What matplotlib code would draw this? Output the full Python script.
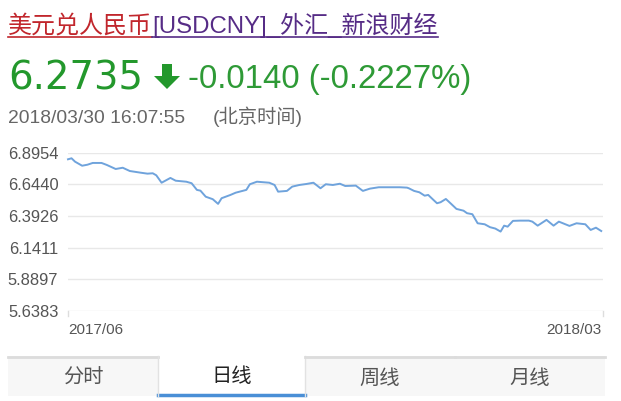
import matplotlib
matplotlib.use("Agg")
import matplotlib.pyplot as plt
import matplotlib.transforms as mtransforms
from matplotlib.patches import Rectangle, Polygon
from matplotlib.lines import Line2D

# USDCNY daily close, days counted from 2017/06 start of chart
days = [0, 2, 4, 8, 11, 14, 19, 22, 27, 31, 35, 41, 45, 48, 50, 53, 58, 61, 67, 70,
        73, 75, 78, 82, 85, 87, 92, 95, 101, 103, 107, 114, 117, 119, 124, 127, 131,
        135, 139, 143, 146, 150, 154, 157, 163, 167, 171, 176, 188, 192, 193, 196,
        199, 202, 204, 207, 209, 211, 214, 217, 220, 224, 226, 229, 232, 236, 239,
        242, 245, 247, 249, 252, 256, 261, 263, 266, 271, 275, 278, 284, 288, 293,
        296, 299, 302]
rates = [6.843, 6.851, 6.824, 6.792, 6.800, 6.814, 6.814, 6.798, 6.766, 6.776, 6.750,
         6.737, 6.729, 6.732, 6.716, 6.657, 6.695, 6.673, 6.665, 6.653, 6.600, 6.594,
         6.546, 6.526, 6.489, 6.534, 6.560, 6.578, 6.600, 6.645, 6.665, 6.657, 6.639,
         6.586, 6.592, 6.626, 6.639, 6.647, 6.657, 6.613, 6.645, 6.639, 6.649, 6.631,
         6.634, 6.592, 6.610, 6.621, 6.621, 6.618, 6.613, 6.592, 6.581, 6.554, 6.560,
         6.520, 6.494, 6.502, 6.528, 6.489, 6.449, 6.435, 6.415, 6.407, 6.335, 6.327,
         6.304, 6.293, 6.269, 6.316, 6.308, 6.354, 6.356, 6.356, 6.348, 6.316, 6.362,
         6.316, 6.348, 6.314, 6.335, 6.327, 6.282, 6.300, 6.2735]
y_ticks = [6.8954, 6.6440, 6.3926, 6.1411, 5.8897, 5.6383]
x_tick_days = [0, 302]
x_tick_labels = ["2017/06", "2018/03"]
tab_names = ["分时", "日线", "周线", "月线"]

W, H = 621, 401
fig = plt.figure(figsize=(W / 100, H / 100), dpi=100)
fig.patch.set_facecolor("white")

# pixel coords, origin top-left
pix = mtransforms.Affine2D().scale(1 / W, -1 / H).translate(0, 1) + fig.transFigure

LAT = ["Liberation Sans", "Noto Sans CJK SC", "DejaVu Sans"]
CJK = ["Noto Sans CJK SC", "DejaVu Sans"]

# title (link style)
red = "#c1262c"
purple = "#562c86"
t1 = fig.text(8, 33, "美元兑人民币", transform=pix, fontsize=17.3, color=red,
              family=CJK, va="baseline")
fig.canvas.draw()
r = fig.canvas.get_renderer()
bb1 = t1.get_window_extent(r)
t2 = fig.text(bb1.x1, 33, "[USDCNY]_外汇_新浪财经", fontsize=17.3, color=purple,
              family=LAT, va="baseline",
              transform=mtransforms.blended_transform_factory(mtransforms.IdentityTransform(), pix))
fig.canvas.draw()
bb2 = t2.get_window_extent(r)
k = W / fig.bbox.width
fig.add_artist(Line2D([8, bb1.x1 * k], [36.5, 36.5], transform=pix, color=red, lw=1.2))
fig.add_artist(Line2D([bb2.x0 * k, bb2.x1 * k], [36.5, 36.5], transform=pix,
                      color=purple, lw=1.2))

# price line
green = "#23982c"
fig.text(8, 90, "6.2735", transform=pix, fontsize=27.8, color=green,
         family=["DejaVu Sans"], va="baseline")
arrow = Polygon([(162, 64), (172, 64), (172, 76), (180, 76), (167, 89), (154, 76), (162, 76)],
                closed=True, transform=pix, facecolor=green, edgecolor="none")
fig.add_artist(arrow)
fig.text(188, 88, "-0.0140 (-0.2227%)", transform=pix, fontsize=23.8, color="#2e9a36",
         family=LAT, va="baseline")

# timestamp
fig.text(8, 123, "2018/03/30 16:07:55", transform=pix, fontsize=13.9, color="#666666",
         family=LAT, va="baseline")
fig.text(213, 123, "(北京时间)", transform=pix, fontsize=13.9, color="#666666",
         family=LAT, va="baseline")

# chart
ax = fig.add_axes([68 / W, 1 - 311 / H, 535 / W, (311 - 152.7) / H])
ax.plot(days, rates, color="#6fa3dc", lw=1.4, clip_on=False)
ax.set_xlim(0, 303)
ax.set_ylim(y_ticks[-1], y_ticks[0])
ax.set_yticks(y_ticks)
ax.set_yticklabels([f"{v:.4f}" for v in y_ticks], family=LAT, fontsize=11.9, color="#555555")
ax.set_xticks(x_tick_days)
ax.set_xticklabels(x_tick_labels, family=LAT, fontsize=11, color="#555555")
xl = ax.get_xticklabels()
xl[0].set_ha("left")
xl[0].set_transform(xl[0].get_transform() + mtransforms.ScaledTranslation(5 / 100, 0, fig.dpi_scale_trans))
xl[1].set_ha("right")
xl[1].set_transform(xl[1].get_transform() + mtransforms.ScaledTranslation(-2 / 100, 0, fig.dpi_scale_trans))
ax.tick_params(axis="both", length=0)
ax.tick_params(axis="y", pad=7)
ax.tick_params(axis="x", pad=9)
for s in ax.spines.values():
    s.set_visible(False)
ax.grid(axis="y", color="#e8e8e8", lw=1)
ax.set_axisbelow(True)
for xe in (0, 1):
    ax.plot([xe, xe], [0, -0.03], transform=ax.transAxes, color="#dddddd", lw=1, clip_on=False)

# tabs
tab_edges = [8, 158, 305, 455, 605]
for i, name in enumerate(tab_names):
    x0, x1 = tab_edges[i], tab_edges[i + 1]
    sel = name == "日线"
    fig.add_artist(Rectangle((x0, 356), x1 - x0, 40, transform=pix,
                             facecolor="white" if sel else "#f7f7f7", edgecolor="none"))
    if sel:
        fig.add_artist(Line2D([x0, x1], [394.5, 394.5], transform=pix, color="#4a8fd6", lw=2.5))
        fig.add_artist(Line2D([x0, x0], [356, 396], transform=pix, color="#e2e2e2", lw=1))
        fig.add_artist(Line2D([x1, x1], [356, 396], transform=pix, color="#e2e2e2", lw=1))
    else:
        fig.add_artist(Line2D([x0, x1], [356.5, 356.5], transform=pix, color="#dcdcdc", lw=2))
    fig.text((x0 + x1) / 2, 377 if sel else 378.5, name, transform=pix, fontsize=14.6,
             color="#222222" if sel else "#555555", family=CJK, ha="center", va="center")

fig.savefig("out.png", dpi=100)
